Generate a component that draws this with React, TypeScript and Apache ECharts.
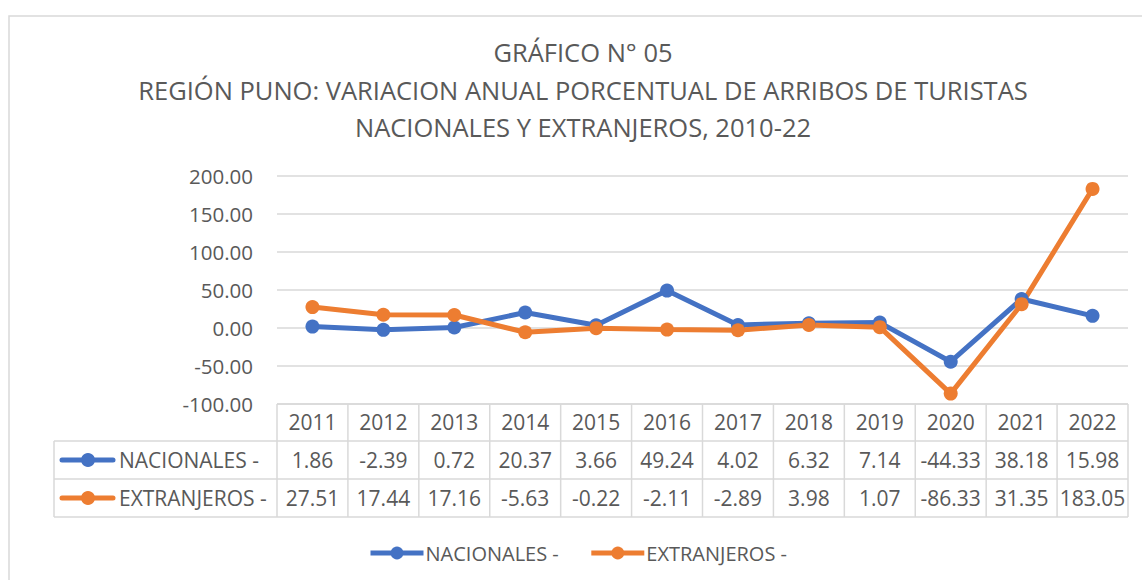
import React, { useEffect, useRef } from "react";
import * as echarts from "echarts";

const years = ["2011", "2012", "2013", "2014", "2015", "2016", "2017", "2018", "2019", "2020", "2021", "2022"];
const nacionales = [1.86, -2.39, 0.72, 20.37, 3.66, 49.24, 4.02, 6.32, 7.14, -44.33, 38.18, 15.98];
const extranjeros = [27.51, 17.44, 17.16, -5.63, -0.22, -2.11, -2.89, 3.98, 1.07, -86.33, 31.35, 183.05];
const seriesNames = ["NACIONALES -", "EXTRANJEROS -"];
const titleLines = [
  "GRÁFICO N° 05",
  "REGIÓN PUNO: VARIACION ANUAL PORCENTUAL DE ARRIBOS DE TURISTAS",
  "NACIONALES Y EXTRANJEROS, 2010-22",
];

const BLUE = "#4472C4";
const ORANGE = "#ED7D31";
const TXT = "#595959";
const GRIDC = "#d9d9d9";
const FONT = "'Open Sans', sans-serif";
const FS = 21;

export default function App() {
  const ref = useRef<HTMLDivElement>(null);
  useEffect(() => {
    if (!ref.current) return;
    const chart = echarts.init(ref.current, null, { renderer: "svg" });
    const option: any = {
      animation: false,
      textStyle: { fontFamily: FONT, color: TXT },
      grid: { left: 277, right: 14, top: 176, bottom: 176, containLabel: false },
      legend: {
        bottom: 12,
        left: 363,
        itemWidth: 53,
        itemHeight: 16,
        itemGap: 30,
        lineStyle: { width: 5 },
        textStyle: { fontSize: 20, color: TXT, fontFamily: FONT, padding: [0, 0, 0, -3] },
        data: seriesNames,
      },
      xAxis: {
        type: "category",
        data: years,
        boundaryGap: true,
        axisLine: { show: false, onZero: false },
        axisTick: { show: false },
        axisLabel: { fontSize: FS, color: TXT, fontFamily: FONT, margin: 18, verticalAlign: "middle" },
      },
      yAxis: {
        type: "value",
        min: -100,
        max: 200,
        interval: 50,
        axisLine: { show: false },
        axisTick: { show: false },
        splitLine: { lineStyle: { color: GRIDC, width: 1.5 } },
        axisLabel: {
          fontSize: 20.5,
          color: TXT,
          fontFamily: FONT,
          margin: 24,
          formatter: (v: number) => v.toFixed(2),
        },
      },
      series: [
        {
          name: seriesNames[0],
          type: "line",
          data: nacionales,
          symbol: "circle",
          symbolSize: 14,
          lineStyle: { color: BLUE, width: 5 },
          itemStyle: { color: BLUE },
        },
        {
          name: seriesNames[1],
          type: "line",
          data: extranjeros,
          symbol: "circle",
          symbolSize: 14,
          lineStyle: { color: ORANGE, width: 5 },
          itemStyle: { color: ORANGE },
        },
      ],
    };
    chart.setOption(option);

    // Build the data table below the plot using the axis scale
    const xs = years.map((_, i) => chart.convertToPixel({ xAxisIndex: 0 }, i) as number);
    const band = xs.length > 1 ? xs[1] - xs[0] : 70;
    const left = xs[0] - band / 2;
    const right = xs[xs.length - 1] + band / 2;
    const yTop = chart.convertToPixel({ yAxisIndex: 0 }, -100) as number;
    const r1 = yTop + 37;
    const r2 = r1 + 38;
    const r3 = r2 + 38;
    const tableLeft = 54;
    const ls = { stroke: GRIDC, lineWidth: 1.5 };
    const g: any[] = [];
    g.push({ type: "rect", shape: { x: 9, y: 16, width: 1300, height: 800 }, style: { fill: "none", stroke: GRIDC, lineWidth: 1.5 }, silent: true });
    titleLines.forEach((t, i) => {
      g.push({
        type: "text",
        x: 583,
        y: 52 + i * 37.5,
        style: { text: t, fontSize: 25.5, fontFamily: FONT, fill: TXT, textAlign: "center", textVerticalAlign: "middle" },
      });
    });
    g.push({ type: "line", shape: { x1: left, y1: yTop, x2: right, y2: yTop }, style: ls });
    [r1, r2, r3].forEach((y) => g.push({ type: "line", shape: { x1: tableLeft, y1: y, x2: right, y2: y }, style: ls }));
    g.push({ type: "line", shape: { x1: tableLeft, y1: r1, x2: tableLeft, y2: r3 }, style: ls });
    for (let i = 0; i <= years.length; i++) {
      const x = left + i * band;
      g.push({ type: "line", shape: { x1: x, y1: yTop, x2: x, y2: r3 }, style: ls });
    }
    const rows = [nacionales, extranjeros];
    const colors = [BLUE, ORANGE];
    rows.forEach((vals, ri) => {
      const cy = (ri === 0 ? (r1 + r2) / 2 : (r2 + r3) / 2);
      g.push({ type: "line", shape: { x1: 62, y1: cy, x2: 113, y2: cy }, style: { stroke: colors[ri], lineWidth: 5, lineCap: "round" } });
      g.push({ type: "circle", shape: { cx: 88, cy, r: 7 }, style: { fill: colors[ri] } });
      g.push({
        type: "text",
        x: 119,
        y: cy,
        style: { text: seriesNames[ri], fontSize: FS, fontFamily: FONT, fill: TXT, textAlign: "left", textVerticalAlign: "middle" },
      });
      vals.forEach((v, i) => {
        g.push({
          type: "text",
          x: xs[i],
          y: cy,
          style: { text: v.toFixed(2), fontSize: FS, fontFamily: FONT, fill: TXT, textAlign: "center", textVerticalAlign: "middle" },
        });
      });
    });
    chart.setOption({ graphic: g });
    return () => chart.dispose();
  }, []);
  return <div ref={ref} style={{ position: "fixed", left: 0, top: 0, width: 1142, height: 580, background: "#fff" }} />;
}
